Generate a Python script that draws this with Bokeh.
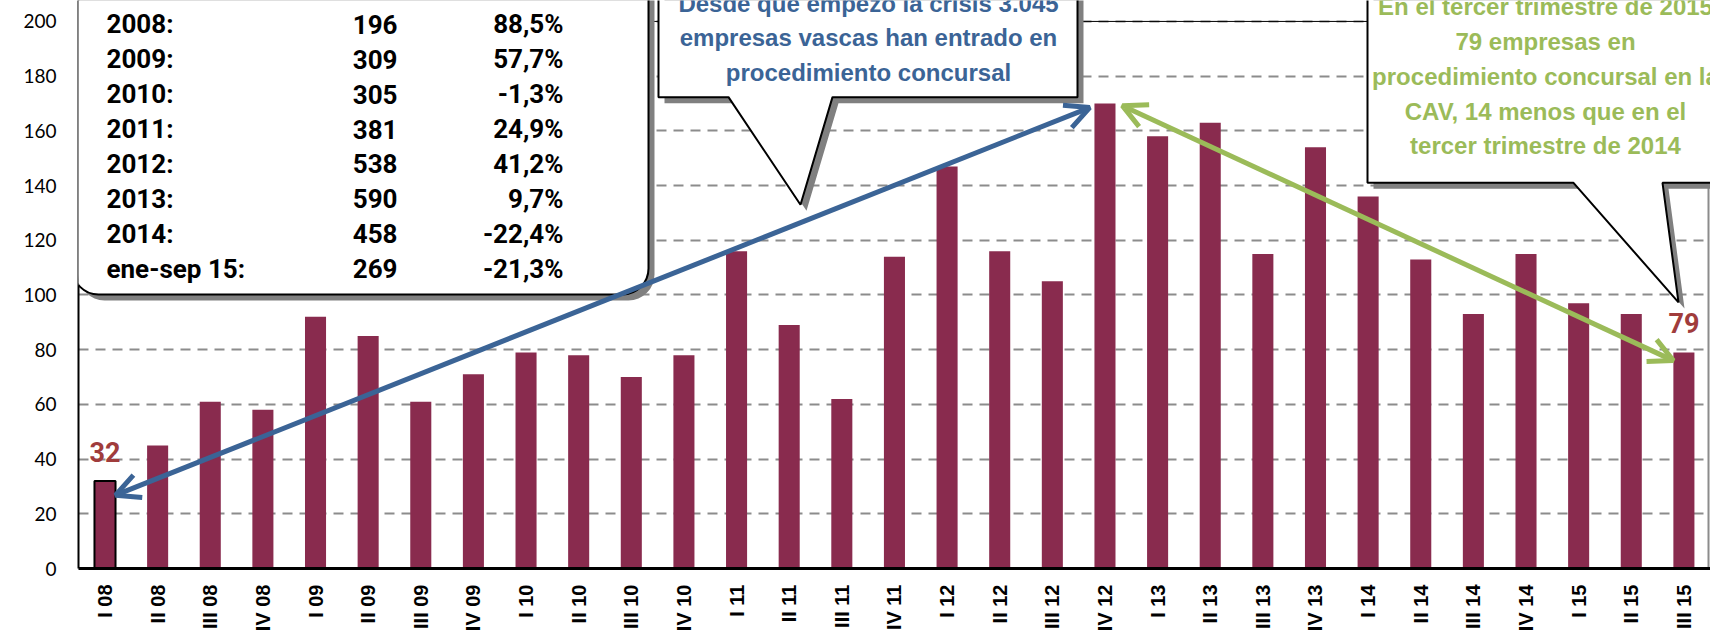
import math
from bokeh.plotting import figure
from bokeh.models import (Range1d, FixedTicker, BoxAnnotation, PolyAnnotation, Label,
                          LabelSet, Arrow, OpenHead, Span, ColumnDataSource)
from bokeh.core.properties import value
from bokeh.embed import file_html
from bokeh.resources import INLINE

# ---------------- data ----------------
quarters = ["I 08", "II 08", "III 08", "IV 08",
            "I 09", "II 09", "III 09", "IV 09",
            "I 10", "II 10", "III 10", "IV 10",
            "I 11", "II 11", "III 11", "IV 11",
            "I 12", "II 12", "III 12", "IV 12",
            "I 13", "II 13", "III 13", "IV 13",
            "I 14", "II 14", "III 14", "IV 14",
            "I 15", "II 15", "III 15"]
companies = [32, 45, 61, 58,
             92, 85, 61, 71,
             79, 78, 70, 78,
             116, 89, 62, 114,
             147, 116, 105, 170,
             158, 163, 115, 154,
             136, 113, 93, 115,
             97, 93, 79]
y_ticks = [0, 20, 40, 60, 80, 100, 120, 140, 160, 180, 200]

table_years = ["2008:", "2009:", "2010:", "2011:", "2012:", "2013:", "2014:", "ene-sep 15:"]
table_totals = ["196", "309", "305", "381", "538", "590", "458", "269"]
table_changes = ["88,5%", "57,7%", "-1,3%", "24,9%", "41,2%", "9,7%", "-22,4%", "-21,3%"]

blue_note = ["Desde que empezó la crisis 3.045",
             "empresas vascas han entrado en",
             "procedimiento concursal"]
green_note = ["En el tercer trimestre de 2015",
              "79 empresas en",
              "procedimiento concursal en la",
              "CAV, 14 menos que en el",
              "tercer trimestre de 2014"]

# ---------------- layout constants ----------------
W, H = 1710, 634
LEFT, BOTTOM = 78, 64
PX_PER_CAT = 52.63
PX_PER_UNIT = 2.745
X0 = -26.5 / PX_PER_CAT
FRAME_H = H - BOTTOM


def dx(px):  # page pixel -> data x
    return X0 + (px - LEFT) / PX_PER_CAT


def dy(py):  # page pixel -> data y
    return (FRAME_H - py) / PX_PER_UNIT


BAR = "#892B4E"
BLUE = "#3B6496"
GREEN = "#9BBB59"
RED = "#A03C3C"
SHADOW = "#808080"

p = figure(width=W, height=H, output_backend="svg", toolbar_location=None,
           x_range=Range1d(X0, X0 + (W - LEFT) / PX_PER_CAT),
           y_range=Range1d(0, FRAME_H / PX_PER_UNIT),
           min_border_left=LEFT, min_border_right=0, min_border_top=0,
           min_border_bottom=BOTTOM)
p.outline_line_color = None
p.background_fill_color = "white"
p.border_fill_color = "white"

# grid
p.xgrid.visible = False
p.ygrid.ticker = FixedTicker(ticks=y_ticks[1:])
p.ygrid.grid_line_color = "#8C8C8C"
p.ygrid.grid_line_width = 2
p.ygrid.grid_line_dash = "10 7"
p.add_layout(Span(location=y_ticks[-1], dimension="width", line_color="black",
                  line_width=1, level="underlay"))
p.add_layout(Span(location=dx(1708), dimension="height", line_color="#8C8C8C",
                  line_width=2, level="underlay"))

# bars
xs = list(range(len(quarters)))
src = ColumnDataSource(dict(x=xs, top=companies, q=quarters))
p.vbar(x="x", top="top", width=0.4, source=src, fill_color=BAR, line_color=None)
first = ColumnDataSource(dict(x=xs[:1], top=companies[:1]))
p.vbar(x="x", top="top", width=0.4, source=first, fill_color=BAR,
       line_color="black", line_width=2)

# axes
for ax in (p.xaxis, p.yaxis):
    ax.major_tick_out = 0
    ax.major_tick_in = 0
    ax.minor_tick_out = 0
    ax.minor_tick_in = 0
    ax.major_tick_line_color = None
    ax.minor_tick_line_color = None
    ax.axis_line_color = "black"
    ax.major_label_text_color = "black"

p.xaxis.ticker = FixedTicker(ticks=xs)
p.xaxis.major_label_overrides = {i: q for i, q in enumerate(quarters)}
p.xaxis.major_label_orientation = math.pi / 2
p.xaxis.major_label_text_font = "Liberation Sans"
p.xaxis.major_label_text_font_style = "bold"
p.xaxis.major_label_text_font_size = "20px"
p.xaxis.major_label_standoff = 16
p.xaxis.axis_line_width = 3

p.yaxis.ticker = FixedTicker(ticks=y_ticks)
p.yaxis.major_label_text_font = "Lato"
p.yaxis.major_label_text_font_size = "19px"
p.yaxis.major_label_standoff = 22
p.yaxis.axis_line_width = 2

# ---------------- table box ----------------
p.add_layout(BoxAnnotation(left=dx(78), right=dx(654), bottom=dy(301), top=dy(-80),
                           fill_color=SHADOW, fill_alpha=1, line_color=None,
                           border_radius=26))
p.add_layout(BoxAnnotation(left=dx(72), right=dx(648), bottom=dy(295), top=dy(-80),
                           fill_color="white", fill_alpha=1, line_color="black",
                           line_alpha=1, line_width=2, border_radius=26))

row_y = [dy(24 + 35 * i) for i in range(len(table_years))]
tsrc = ColumnDataSource(dict(y=row_y, yr=table_years, tot=table_totals, chg=table_changes,
                             x1=[dx(106)] * len(row_y), x2=[dx(397)] * len(row_y),
                             x3=[dx(563)] * len(row_y)))
for col, xcol, align in (("yr", "x1", "left"), ("tot", "x2", "right"), ("chg", "x3", "right")):
    p.add_layout(LabelSet(x=xcol, y="y", text=col, source=tsrc, text_align=align,
                          text_baseline="middle", text_font=value("Roboto"),
                          text_font_size="26px", text_font_style="bold",
                          text_color="black"))


# ---------------- callouts ----------------
def callout(xs_px, ys_px, off):
    p.add_layout(PolyAnnotation(xs=[dx(v + off) for v in xs_px], ys=[dy(v + off) for v in ys_px],
                                fill_color=SHADOW, fill_alpha=1, line_color=None))
    p.add_layout(PolyAnnotation(xs=[dx(v) for v in xs_px], ys=[dy(v) for v in ys_px],
                                fill_color="white", fill_alpha=1, line_color="black",
                                line_alpha=1, line_width=2))


callout([658, 1077, 1077, 832, 800, 728, 658], [-80, -80, 97, 97, 205, 97, 97], 6)
callout([1367, 1780, 1780, 1662, 1678, 1573, 1367], [-80, -80, 183, 183, 303, 183, 183], 6)

for i, line in enumerate(blue_note):
    p.add_layout(Label(x=dx(868), y=dy(3 + 34.5 * i), text=line, text_align="center",
                       text_baseline="middle", text_font="Liberation Sans",
                       text_font_style="bold", text_font_size="24px", text_color=BLUE))
for i, line in enumerate(green_note):
    p.add_layout(Label(x=dx(1545), y=dy(6 + 35 * i), text=line, text_align="center",
                       text_baseline="middle", text_font="Liberation Sans",
                       text_font_style="bold", text_font_size="24px", text_color=GREEN))

# ---------------- arrows ----------------
peak = companies.index(max(companies))
last = len(companies) - 1
for col, x_s, y_s, x_e, y_e in (
        (BLUE, xs[0] + 0.2, companies[0] - 5.2, xs[peak] - 0.29, companies[peak] - 1.5),
        (GREEN, xs[peak] + 0.33, companies[peak] - 0.8, xs[last] - 0.2, companies[last] - 3)):
    p.add_layout(Arrow(start=OpenHead(size=24, line_color=col, line_width=5),
                       end=OpenHead(size=24, line_color=col, line_width=5),
                       x_start=x_s, y_start=y_s, x_end=x_e, y_end=y_e,
                       line_color=col, line_width=5))

# value labels for first and last quarter
vsrc = ColumnDataSource(dict(x=[xs[0], xs[last]],
                             y=[companies[0] + 10.6, companies[last] + 10.6],
                             t=[str(companies[0]), str(companies[last])]))
p.add_layout(LabelSet(x="x", y="y", text="t", source=vsrc, text_align="center",
                      text_baseline="middle", text_font=value("Roboto"), text_font_style="bold",
                      text_font_size="27px", text_color=RED))

open("out.html", "w").write(file_html(p, INLINE))
